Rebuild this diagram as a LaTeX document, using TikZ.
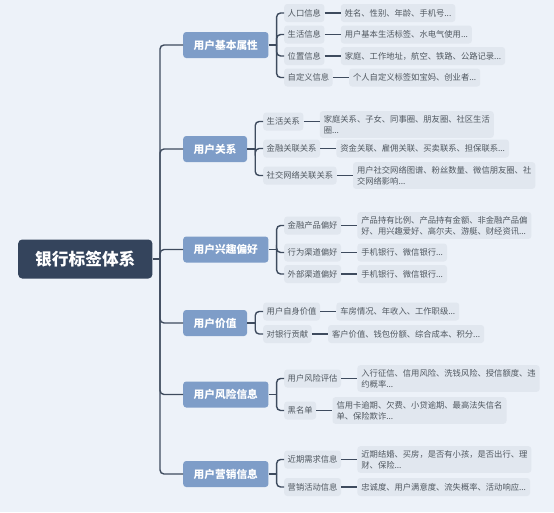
\documentclass[tikz,border=0pt]{standalone}
\usepackage{fontspec}
\setmainfont{Noto Sans CJK SC}
\usepackage{tikz}
\usetikzlibrary{positioning}
\definecolor{canvas}{HTML}{EDF2F9}
\definecolor{rootblue}{HTML}{34445C}
\definecolor{topicblue}{HTML}{7E9DC8}
\definecolor{chip}{HTML}{E1E7EF}
\definecolor{chiptext}{HTML}{505860}
\definecolor{linkc}{HTML}{3E4B5E}

\begin{document}
\begin{tikzpicture}[
    x=1pt, y=-1pt,
    node distance=16pt,
    root/.style={rectangle, rounded corners=4pt, fill=rootblue, text=white, font=\fontsize{16.7}{20}\selectfont\bfseries, minimum height=39pt, inner xsep=17pt, anchor=west},
    topic/.style={rectangle, rounded corners=3pt, fill=topicblue, text=white, font=\fontsize{10.7}{13}\selectfont\bfseries, minimum height=26pt, inner xsep=10.5pt, anchor=west},
    sub/.style={rectangle, rounded corners=3pt, fill=chip, text=chiptext, font=\fontsize{8.3}{11}\selectfont, minimum height=18pt, inner xsep=3.5pt, anchor=west},
    leaf/.style={sub, inner xsep=4pt, inner ysep=4pt, align=left},
    link/.style={draw=linkc, line width=1.4pt, rounded corners=4pt},
]

% Background
\fill[canvas] (0,0) rectangle (554,512);
\useasboundingbox (0,0) rectangle (554,512);

% Root
\node[root] (bank) at (18,259) {银行标签体系};
\coordinate (trunk) at (160,259);
\draw[link] (bank.east) -- (trunk);

% Topics
\node[topic] (basic) at (183,45) {用户基本属性};
\node[topic] (rel) at (183,149) {用户关系};
\node[topic] (pref) at (183,249.5) {用户兴趣偏好};
\node[topic] (worth) at (183,323) {用户价值};
\node[topic] (risk) at (183,394.5) {用户风险信息};
\node[topic] (mkt) at (183,474) {用户营销信息};

% Root to topics
\draw[link] (trunk) |- (basic.west);
\draw[link] (trunk) |- (rel.west);
\draw[link] (trunk) |- (pref.west);
\draw[link] (trunk) |- (worth.west);
\draw[link] (trunk) |- (risk.west);
\draw[link] (trunk) |- (mkt.west);

% Basic attributes
\node[sub] (basicPop) at (284,13) {人口信息};
\node[sub] (basicLife) at (284,34.5) {生活信息};
\node[sub] (basicLoc) at (284,56) {位置信息};
\node[sub] (basicOwn) at (284,77.5) {自定义信息};
\node[leaf, right=of basicPop] (basicPopV) {姓名、性别、年龄、手机号...};
\node[leaf, right=of basicLife] (basicLifeV) {用户基本生活标签、水电气使用...};
\node[leaf, right=of basicLoc] (basicLocV) {家庭、工作地址，航空、铁路、公路记录...};
\node[leaf, right=of basicOwn] (basicOwnV) {个人自定义标签如宝妈、创业者...};
\coordinate (basicK) at ([xshift=8pt]basic.east);
\draw[link] (basic.east) -- (basicK);
\draw[link] (basicK) |- (basicPop.west);
\draw[link] (basicK) |- (basicLife.west);
\draw[link] (basicK) |- (basicLoc.west);
\draw[link] (basicK) |- (basicOwn.west);
\draw[link] (basicPop.east) -- (basicPop.east -| basicPopV.west);
\draw[link] (basicLife.east) -- (basicLife.east -| basicLifeV.west);
\draw[link] (basicLoc.east) -- (basicLoc.east -| basicLocV.west);
\draw[link] (basicOwn.east) -- (basicOwn.east -| basicOwnV.west);

% Relations
\node[sub] (relLife) at (263,121.5) {生活关系};
\node[sub] (relFin) at (263,148.5) {金融关联关系};
\node[sub] (relNet) at (263,175.5) {社交网络关联关系};
\node[leaf, right=of relLife, yshift=-3pt] (relLifeV) {家庭关系、子女、同事圈、朋友圈、社区生活\\圈...};
\node[leaf, right=of relFin] (relFinV) {资金关联、雇佣关联、买卖联系、担保联系...};
\node[leaf, right=of relNet] (relNetV) {用户社交网络图谱、粉丝数量、微信朋友圈、社\\交网络影响...};
\coordinate (relK) at ([xshift=8pt]rel.east);
\draw[link] (rel.east) -- (relK);
\draw[link] (relK) |- (relLife.west);
\draw[link] (relK) |- (relFin.west);
\draw[link] (relK) |- (relNet.west);
\draw[link] (relLife.east) -- (relLife.east -| relLifeV.west);
\draw[link] (relFin.east) -- (relFin.east -| relFinV.west);
\draw[link] (relNet.east) -- (relNet.east -| relNetV.west);

% Preferences
\node[sub] (prefProd) at (284,225.5) {金融产品偏好};
\node[sub] (prefAct) at (284,252.5) {行为渠道偏好};
\node[sub] (prefExt) at (284,274) {外部渠道偏好};
\node[leaf, right=of prefProd] (prefProdV) {产品持有比例、产品持有金额、非金融产品偏\\好、用兴趣爱好、高尔夫、游艇、财经资讯...};
\node[leaf, right=of prefAct] (prefActV) {手机银行、微信银行...};
\node[leaf, right=of prefExt] (prefExtV) {手机银行、微信银行...};
\coordinate (prefK) at ([xshift=8pt]pref.east);
\draw[link] (pref.east) -- (prefK);
\draw[link] (prefK) |- (prefProd.west);
\draw[link] (prefK) |- (prefAct.west);
\draw[link] (prefK) |- (prefExt.west);
\draw[link] (prefProd.east) -- (prefProd.east -| prefProdV.west);
\draw[link] (prefAct.east) -- (prefAct.east -| prefActV.west);
\draw[link] (prefExt.east) -- (prefExt.east -| prefExtV.west);

% Value
\node[sub] (worthSelf) at (263,311.5) {用户自身价值};
\node[sub] (worthBank) at (263,334) {对银行贡献};
\node[leaf, right=of worthSelf] (worthSelfV) {车房情况、年收入、工作职级...};
\node[leaf, right=of worthBank] (worthBankV) {客户价值、钱包份额、综合成本、积分...};
\coordinate (worthK) at ([xshift=8pt]worth.east);
\draw[link] (worth.east) -- (worthK);
\draw[link] (worthK) |- (worthSelf.west);
\draw[link] (worthK) |- (worthBank.west);
\draw[link] (worthSelf.east) -- (worthSelf.east -| worthSelfV.west);
\draw[link] (worthBank.east) -- (worthBank.east -| worthBankV.west);

% Risk
\node[sub] (riskEval) at (284,378.5) {用户风险评估};
\node[sub] (riskBlack) at (284,410.5) {黑名单};
\node[leaf, right=of riskEval] (riskEvalV) {入行征信、信用风险、洗钱风险、授信额度、违\\约概率...};
\node[leaf, right=of riskBlack] (riskBlackV) {信用卡逾期、欠费、小贷逾期、最高法失信名\\单、保险欺诈...};
\coordinate (riskK) at ([xshift=8pt]risk.east);
\draw[link] (risk.east) -- (riskK);
\draw[link] (riskK) |- (riskEval.west);
\draw[link] (riskK) |- (riskBlack.west);
\draw[link] (riskEval.east) -- (riskEval.east -| riskEvalV.west);
\draw[link] (riskBlack.east) -- (riskBlack.east -| riskBlackV.west);

% Marketing
\node[sub] (mktNeed) at (284,459.5) {近期需求信息};
\node[sub] (mktCamp) at (284,487) {营销活动信息};
\node[leaf, right=of mktNeed] (mktNeedV) {近期结婚、买房，是否有小孩，是否出行、理\\财、保险...};
\node[leaf, right=of mktCamp] (mktCampV) {忠诚度、用户满意度、流失概率、活动响应...};
\coordinate (mktK) at ([xshift=8pt]mkt.east);
\draw[link] (mkt.east) -- (mktK);
\draw[link] (mktK) |- (mktNeed.west);
\draw[link] (mktK) |- (mktCamp.west);
\draw[link] (mktNeed.east) -- (mktNeed.east -| mktNeedV.west);
\draw[link] (mktCamp.east) -- (mktCamp.east -| mktCampV.west);

\end{tikzpicture}
\end{document}
